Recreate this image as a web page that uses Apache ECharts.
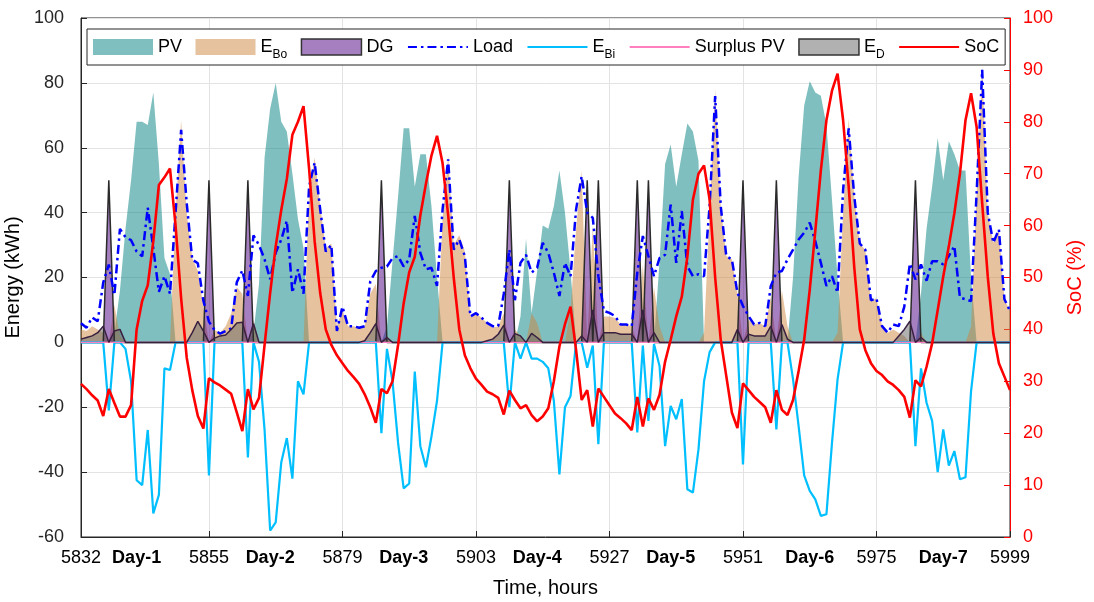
<!DOCTYPE html>
<html>
<head>
<meta charset="utf-8">
<title>Hourly energy dispatch</title>
<script src="https://cdn.jsdelivr.net/npm/echarts/dist/echarts.min.js"></script>
<style>
    html, body { margin: 0; padding: 0; background: #fff; }
    #divChart { width: 1094px; height: 602px; }
</style>
</head>
<body>
<div id="divChart"></div>
<script>
var startHour = 5832;
var endHour = 5999;
var tickHours = [5832, 5855, 5879, 5903, 5927, 5951, 5975, 5999];
var dayHours = [5842, 5866, 5890, 5914, 5938, 5963, 5987];
var dayNames = ['Day-1', 'Day-2', 'Day-3', 'Day-4', 'Day-5', 'Day-6', 'Day-7'];

// one value per hour, 5832 .. 5999 (24 per row)
var pvData = [
    0, 0, 0, 0, 0, 0, 3, 16, 35, 50, 68, 68, 67, 77, 55, 26, 21, 0, 0, 0, 0, 0, 0, 0,
    0, 0, 0, 0, 0, 0, 0, 3, 18, 57, 72, 80, 68, 65, 52, 38, 29, 0, 0, 0, 0, 0, 0, 0,
    0, 0, 0, 0, 0, 0, 0, 5, 25, 45, 66, 66, 48, 58, 58, 42, 20, 0, 0, 0, 0, 0, 0, 0,
    0, 0, 0, 0, 0, 0, 0, 8, 32, 9, 22, 36, 35, 42, 53, 40, 22, 0, 0, 0, 0, 0, 0, 0,
    0, 0, 0, 0, 0, 0, 0, 0, 25, 55, 61, 48, 58, 67.5, 65, 56, 0, 0, 0, 0, 0, 0, 0, 0,
    0, 0, 0, 0, 0, 0, 0, 0, 20, 51, 73, 80.5, 77, 76, 67, 44, 20, 0, 0, 0, 0, 0, 0, 0,
    0, 0, 0, 0, 0, 0, 0, 15, 35, 48, 63, 50, 62, 58, 53, 53, 20, 0, 0, 0, 0, 0, 0, 0
];
var eboData = [
    4, 3.5, 5, 4, 3, 0, 11.5, 2, 0, 0, 0, 0, 0, 0, 0, 0, 0, 40, 68.5, 40, 26, 22, 11, 0,
    3.8, 3, 5, 9, 17, 15, 0, 7, 0, 0, 0, 0, 0, 0, 0, 0, 0, 46, 57, 42, 29, 30.5, 5, 10,
    5, 5, 4.5, 5, 15, 18, 0, 2, 0, 0, 0, 0, 0, 0, 0, 0, 0, 38, 57.5, 30, 33, 28, 8.2, 9,
    7.6, 6, 4.5, 5, 9, 0, 4, 2, 0, 9, 6, 0, 0, 0, 0, 0, 10, 35, 53, 0, 36, 0, 8, 8,
    7.5, 5.5, 5.5, 5, 0, 24, 0, 17, 5, 0, 0, 0, 0, 0, 0, 0, 3, 40, 78, 42, 26.6, 25.6, 15, 0,
    7, 5.5, 6, 5, 14, 0, 16, 5, 0, 0, 0, 0, 0, 0, 0, 0, 3, 40, 69, 45, 30.5, 28.5, 13, 13.5,
    5, 3, 4, 3, 2, 0, 0, 3, 0, 0, 0, 0, 0, 0, 0, 0, 5, 46, 85, 40, 30.7, 34.8, 13.3, 9.7
];
var dgData = [
    0, 0, 0, 0, 0, 50, 0, 0, 0, 0, 0, 0, 0, 0, 0, 0, 0, 0, 0, 0, 0, 0, 0, 50,
    0, 0, 0, 0, 0, 0, 50, 0, 0, 0, 0, 0, 0, 0, 0, 0, 0, 0, 0, 0, 0, 0, 0, 0,
    0, 0, 0, 0, 0, 0, 50, 0, 0, 0, 0, 0, 0, 0, 0, 0, 0, 0, 0, 0, 0, 0, 0, 0,
    0, 0, 0, 0, 0, 50, 0, 0, 0, 0, 0, 0, 0, 0, 0, 0, 0, 0, 0, 50, 0, 50, 0, 0,
    0, 0, 0, 0, 50, 0, 50, 0, 0, 0, 0, 0, 0, 0, 0, 0, 0, 0, 0, 0, 0, 0, 0, 50,
    0, 0, 0, 0, 0, 50, 0, 0, 0, 0, 0, 0, 0, 0, 0, 0, 0, 0, 0, 0, 0, 0, 0, 0,
    0, 0, 0, 0, 0, 0, 50, 0, 0, 0, 0, 0, 0, 0, 0, 0, 0, 0, 0, 0, 0, 0, 0, 0
];
var loadData = [
    5.9, 4.5, 7.7, 6.5, 18.5, 24, 14.6, 35, 32.4, 31.5, 28, 26.5, 41.5, 29, 15.6, 20.4, 15, 40, 65.5, 43, 25.5, 24.4, 12.8, 6.4,
    3.8, 2.7, 3.5, 4.3, 18.5, 22.2, 14.3, 33, 30, 25.6, 19.5, 27.6, 31.7, 37.5, 15.3, 22.5, 15, 48, 55.4, 41, 28, 30, 3.5, 11,
    5, 5, 4.5, 5, 18.8, 22, 23, 23.4, 26, 26.6, 23.4, 25.6, 39, 27.6, 22.5, 23, 17.4, 41, 56.4, 28.6, 31.7, 26.6, 8, 9,
    7.6, 6, 5, 5, 15, 28.6, 13, 24.5, 27, 21.5, 23, 30.7, 27.6, 21.5, 14.3, 24.5, 20.4, 41, 51.2, 40, 38.4, 20.4, 9.7, 9.1,
    8.1, 5.5, 5.5, 5, 21.5, 32.8, 26.6, 20.4, 26, 27, 42.5, 24.5, 40.5, 23.5, 20.4, 21, 20.4, 42, 75.9, 42, 26.6, 25.6, 15.3, 11.2,
    8.1, 5.5, 6, 5, 17.4, 21.5, 22, 25.6, 28.6, 31.7, 33.8, 36.9, 31.2, 24.5, 17.4, 20.4, 15.3, 47, 66, 45, 30.5, 28.5, 13, 13.5,
    5, 3, 5.5, 5, 11, 24.3, 19.4, 24, 19, 25, 25, 24, 26.6, 29.7, 13.8, 13.3, 12.7, 46, 84, 40, 30.7, 34.8, 13.3, 9.7
];
var ebiData = [
    0, 0, 0, 0, 0, -21, 0, 0, -2, -12, -42.5, -44, -27, -52.7, -47, -8, -8.5, 0, 0, 0, 0, 0, 0, -41,
    0, 0, 0, 0, 0, 0, -35.5, 0, -6, -27, -58, -55.5, -37, -29.5, -42, -12, -16, 0, 0, 0, 0, 0, 0, 0,
    0, 0, 0, 0, 0, 0, -28, -2, -12, -31, -45, -43.5, -9, -32, -38.5, -29, -18, 0, 0, 0, 0, 0, 0, 0,
    0, 0, 0, 0, 0, -20, 0, -5, 0, -5, -5, -6, -8, -18, -40.7, -20, -16.5, 0, 0, -7.8, -1, -31.4, 0, 0,
    0, 0, 0, 0, -27.8, -1, -24.2, -0.5, -7.3, -32, -19.6, -23.7, -17.5, -45.3, -46.3, -33, -12, -3, 0, 0, 0, 0, 0, -37.6,
    0, 0, 0, 0, 0, -26.8, 0, 0, -11.4, -25.8, -41, -45.8, -48.4, -53.5, -53, -31, -11.4, 0, 0, 0, 0, 0, 0, 0,
    0, 0, 0, 0, 0, 0, -32, -8, -18.6, -24.2, -40, -26.8, -38, -33.5, -42.2, -41.6, -15, 0, 0, 0, 0, 0, 0, 0
];
var surplusData = [
    0, 0, 0, 0, 0, 0, 0, 0, 0, 0, 0, 0, 0, 0, 0, 0, 0, 0, 0, 0, 0, 0, 0, 0,
    0, 0, 0, 0, 0, 0, 0, 0, 0, 0, 0, 0, 0, 0, 0, 0, 0, 0, 0, 0, 0, 0, 0, 0,
    0, 0, 0, 0, 0, 0, 0, 0, 0, 0, 0, 0, 0, 0, 0, 0, 0, 0, 0, 0, 0, 0, 0, 0,
    0, 0, 0, 0, 0, 0, 0, 0, 0, 0, 0, 0, 0, 0, 0, 0, 0, 0, 0, 0, 0, 0, 0, 0,
    0, 0, 0, 0, 0, 0, 0, 0, 0, 0, 0, 0, 0, 0, 0, 0, 0, 0, 0, 0, 0, 0, 0, 0,
    0, 0, 0, 0, 0, 0, 0, 0, 0, 0, 0, 0, 0, 0, 0, 0, 0, 0, 0, 0, 0, 0, 0, 0,
    0, 0, 0, 0, 0, 0, 0, 0, 0, 0, 0, 0, 0, 0, 0, 0, 0, 0, 0, 0, 0, 0, 0, 0
];
var edData = [
    1, 1.5, 2, 3, 5, 0, 3.5, 4, 0, 0, 0, 0, 0, 0, 0, 0, 0, 0, 0, 0, 3, 6.5, 3.5, 0,
    1.3, 2, 2.3, 4, 6, 6.2, 0, 5.8, 0, 0, 0, 0, 0, 0, 0, 0, 0, 0, 0, 0, 0, 0, 0, 0,
    0, 0, 0, 0.5, 3, 5.8, 0, 1.5, 0, 0, 0, 0, 0, 0, 0, 0, 0, 0, 0, 0, 0, 0, 0, 0,
    0, 0.5, 1, 2.5, 5.3, 0, 2.7, 2, 0, 2.8, 1.5, 0, 0, 0, 0, 0, 0, 0, 2, 0, 10, 0, 3, 3,
    3, 2.5, 2.5, 2.5, 0, 10, 0, 3, 0, 0, 0, 0, 0, 0, 0, 0, 0, 0, 0, 0, 0, 0, 4, 0,
    2.5, 2, 2, 2, 5, 0, 5.5, 1, 0, 0, 0, 0, 0, 0, 0, 0, 0, 0, 0, 0, 0, 0, 0, 0,
    0, 0, 0, 2, 4, 6.5, 0, 1.5, 0, 0, 0, 0, 0, 0, 0, 0, 0, 0, 0, 0, 0, 0, 0, 0
];
var socData = [
    29.5, 28.5, 27.3, 26.3, 23.3, 28.5, 25.8, 23.2, 23.2, 25.4, 40, 45.5, 48.5, 57, 67.8, 69.3, 71, 60, 46, 34.6, 28.3, 23.3, 20.9, 30.6,
    29.8, 29.2, 28.4, 27.6, 24, 20.4, 28.5, 24.6, 26.8, 37, 47, 56, 63, 69, 77.5, 80, 83, 71, 57, 47, 40, 37, 35, 33.5,
    32, 30.8, 29.5, 27.5, 25, 22, 28.5, 27.7, 30, 37, 45, 51, 54, 62, 68, 73.5, 77.3, 72, 62, 50, 40, 35, 32.5, 30.5,
    29.3, 28, 27.5, 26.8, 23.6, 28.2, 26.4, 24.8, 25.4, 23.5, 22.3, 23.2, 24.8, 30, 36.7, 41, 44.4, 36, 26.4, 28.3, 21.3, 28.6, 27, 25.4,
    23.8, 22.9, 21.9, 20.6, 27, 21.3, 26.7, 24.5, 27.4, 33.8, 38, 42.5, 46.3, 54, 65, 70, 71.6, 65, 50, 38, 31, 24, 21, 29.6,
    28.3, 27, 26, 25, 22, 28.3, 24.5, 23.5, 26.4, 32, 38, 47.6, 59, 70.7, 80.3, 86, 89.3, 80.3, 67.5, 52, 40, 36, 33.5, 32,
    31.2, 30, 29.3, 28.3, 27, 23, 30.2, 29, 32.8, 37.3, 43.7, 50.2, 56, 62.4, 70, 80.3, 85.5, 79, 64.3, 50.2, 39.2, 33.5, 30.9, 28.3
];

var FONT = "'Liberation Sans', Arial, Helvetica, sans-serif";
var legendText = {
    'PV': 'PV',
    'E_Bo': '{m|E}{s|Bo}',
    'DG': 'DG',
    'Load': 'Load',
    'E_Bi': '{m|E}{s|Bi}',
    'Surplus PV': 'Surplus PV',
    'E_D': '{m|E}{s|D}',
    'SoC': 'SoC'
};
// hides the marker dot that line series draw in the legend
var noMarker = { color: 'rgba(0,0,0,0)', borderColor: 'rgba(0,0,0,0)', borderWidth: 0, opacity: 0 };

var myChart;

function buildHours() {
    var list = [];
    for (var h = startHour; h <= endHour; h++) {
        list.push(String(h));
    }
    return list;
}

function isTick(index, value) {
    return tickHours.indexOf(Number(value)) >= 0;
}

function isLabel(index, value) {
    return isTick(index, value) || dayHours.indexOf(Number(value)) >= 0;
}

function areaSeries(name, data, fill, edge) {
    return {
        name: name,
        type: 'line',
        data: data,
        symbol: 'none',
        color: fill,
        itemStyle: { color: fill },
        lineStyle: edge ? { color: edge, width: 1.5 } : { width: 0 },
        areaStyle: { color: fill, origin: 0, opacity: 1 }
    };
}

function lineSeries(name, data, color, width, type, yIndex) {
    return {
        name: name,
        type: 'line',
        data: data,
        yAxisIndex: yIndex || 0,
        symbol: 'none',
        showSymbol: false,
        color: color,
        lineStyle: { color: color, width: width, type: type || 'solid' }
    };
}

function initChart() {
    var hours = buildHours();
    var option = {
        backgroundColor: '#fff',
        animation: false,
        textStyle: { fontFamily: FONT },
        grid: {
            left: 81, right: 84, top: 18, bottom: 65,
            show: true, borderColor: '#262626', borderWidth: 1,
            containLabel: false, outerBoundsMode: 'none'
        },
        legend: {
            left: 87, top: 29,
            orient: 'horizontal',
            itemWidth: 60, itemHeight: 16, itemGap: 13.5,
            padding: [9, 6, 4, 6],
            backgroundColor: '#fff',
            borderColor: '#262626', borderWidth: 1,
            selectedMode: false,
            textStyle: {
                fontFamily: FONT, fontSize: 18, color: '#000',
                rich: {
                    m: { fontFamily: FONT, fontSize: 18, color: '#000' },
                    s: { fontFamily: FONT, fontSize: 12, color: '#000', padding: [16, 0, 0, 0] }
                }
            },
            formatter: function (name) { return legendText[name]; },
            data: [
                { name: 'PV', icon: 'rect', itemStyle: { color: 'rgba(0,128,128,0.5)', borderWidth: 0 } },
                { name: 'E_Bo', icon: 'rect', itemStyle: { color: 'rgba(205,133,63,0.5)', borderWidth: 0 } },
                { name: 'DG', icon: 'rect', itemStyle: { color: 'rgba(75,0,130,0.5)', borderColor: '#333', borderWidth: 1.5 } },
                { name: 'Load', itemStyle: noMarker },
                { name: 'E_Bi', itemStyle: noMarker },
                { name: 'Surplus PV', itemStyle: noMarker },
                { name: 'E_D', icon: 'rect', itemStyle: { color: 'rgba(100,100,100,0.5)', borderColor: '#333', borderWidth: 1.5 } },
                { name: 'SoC', itemStyle: noMarker }
            ]
        },
        xAxis: [{
            type: 'category',
            data: hours,
            boundaryGap: false,
            name: 'Time, hours',
            nameLocation: 'middle',
            nameGap: 41,
            nameTextStyle: { fontFamily: FONT, fontSize: 20, color: '#000' },
            axisLine: { onZero: false, lineStyle: { color: '#262626', width: 1 } },
            axisTick: { show: true, inside: true, length: 6, interval: isTick, lineStyle: { color: '#262626' } },
            splitLine: { show: true, interval: isTick, lineStyle: { color: '#e3e3e3', width: 1 } },
            axisLabel: {
                interval: isLabel,
                margin: 12,
                fontFamily: FONT, fontSize: 18, color: '#000',
                formatter: function (value) {
                    var k = dayHours.indexOf(Number(value));
                    if (k >= 0) {
                        return '{b|' + dayNames[k] + '}';
                    }
                    return value;
                },
                rich: {
                    b: { fontFamily: FONT, fontSize: 18, fontWeight: 'bold', color: '#000' }
                }
            }
        }],
        yAxis: [
            {
                type: 'value',
                min: -60, max: 100, interval: 20,
                name: 'Energy (kWh)',
                nameLocation: 'middle',
                nameGap: 47,
                nameTextStyle: { fontFamily: FONT, fontSize: 20, color: '#000' },
                axisLine: { show: true, lineStyle: { color: '#262626' } },
                axisTick: { show: true, inside: true, length: 6, lineStyle: { color: '#262626' } },
                axisLabel: { margin: 17, fontFamily: FONT, fontSize: 18, color: '#262626' },
                splitLine: { show: true, lineStyle: { color: '#e3e3e3', width: 1 } }
            },
            {
                type: 'value',
                position: 'right',
                min: 0, max: 100, interval: 10,
                name: 'SoC (%)',
                nameLocation: 'middle',
                nameGap: 55,
                nameTextStyle: { fontFamily: FONT, fontSize: 20, color: '#ff0000' },
                axisLine: { show: true, lineStyle: { color: '#ff0000' } },
                axisTick: { show: true, inside: true, length: 6, lineStyle: { color: '#ff0000' } },
                axisLabel: { margin: 13, fontFamily: FONT, fontSize: 18, color: '#ff0000' },
                splitLine: { show: false }
            }
        ],
        series: [
            areaSeries('PV', pvData, 'rgba(0,128,128,0.5)', null),
            areaSeries('E_Bo', eboData, 'rgba(205,133,63,0.5)', null),
            areaSeries('DG', dgData, 'rgba(75,0,130,0.5)', '#2b2b2b'),
            lineSeries('Load', loadData, '#0000ff', 2.5, [9, 4, 2.5, 4]),
            lineSeries('E_Bi', ebiData, '#00bfff', 2.2),
            lineSeries('Surplus PV', surplusData, '#ff80c0', 1.2),
            areaSeries('E_D', edData, 'rgba(100,100,100,0.5)', '#3a2040'),
            lineSeries('SoC', socData, '#ff0000', 2.6, 'solid', 1)
        ]
    };
    myChart.setOption(option);
}

myChart = echarts.init(document.getElementById('divChart'), null, { renderer: 'canvas' });
initChart();
</script>
</body>
</html>
